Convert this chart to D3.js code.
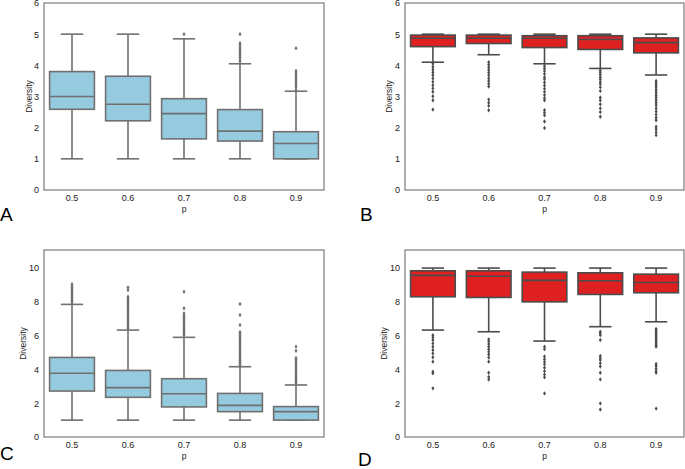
<!DOCTYPE html>
<html>
<head>
<meta charset="utf-8">
<script src="https://cdn.jsdelivr.net/npm/d3@7"></script>
<style>
  body { margin: 0; background: #fff; }
  svg { display: block; font-family: "Liberation Sans", Arial, sans-serif; }
</style>
</head>
<body>
<script>
// categories (p) shared by all four panels
var categories = ['0.5', '0.6', '0.7', '0.8', '0.9'];
var ticksSmall = [0, 1, 2, 3, 4, 5, 6];
var ticksLarge = [0, 2, 4, 6, 8, 10];

// Panel A
var aWhisLo = [1, 1, 1, 1, 1];
var aQ1 = [2.59, 2.22, 1.64, 1.57, 1.0];
var aMed = [3.0, 2.75, 2.45, 1.89, 1.49];
var aQ3 = [3.8, 3.65, 2.93, 2.58, 1.87];
var aWhisHi = [5, 5, 4.85, 4.05, 3.17];
var aFliers = [
  [],
  [],
  [5.0],
  [4.12, 4.18, 4.25, 4.3, 4.36, 4.42, 4.48, 4.55, 4.6, 4.66, 4.71, 5.0],
  [3.22, 3.3, 3.36, 3.42, 3.48, 3.55, 3.62, 3.68, 3.75, 3.82, 4.55]
];

// Panel B
var bWhisLo = [4.1, 4.34, 4.05, 3.9, 3.69];
var bQ1 = [4.6, 4.7, 4.57, 4.51, 4.4];
var bMed = [4.87, 4.87, 4.87, 4.83, 4.73];
var bQ3 = [4.97, 4.97, 4.95, 4.95, 4.88];
var bWhisHi = [5, 5, 5, 5, 5];
var bFliers = [
  [4.05, 3.95, 3.86, 3.77, 3.68, 3.58, 3.47, 3.36, 3.26, 3.15, 3.01, 2.88, 2.58],
  [4.1, 4.02, 3.93, 3.85, 3.76, 3.67, 3.58, 3.5, 3.41, 3.32, 2.9, 2.8, 2.7, 2.56],
  [3.98, 3.9, 3.82, 3.72, 3.62, 3.55, 3.45, 3.35, 3.25, 3.15, 3.05, 2.95, 2.88, 2.56, 2.48, 2.4, 2.2, 1.99],
  [3.84, 3.78, 3.7, 3.62, 3.55, 3.47, 3.4, 3.3, 3.18, 2.97, 2.88, 2.75, 2.62, 2.5, 2.35],
  [3.5, 3.43, 3.36, 3.28, 3.2, 3.12, 3.04, 2.96, 2.88, 2.8, 2.72, 2.62, 2.52, 2.42, 2.32, 2.24, 2.03, 1.95, 1.85, 1.76]
];

// Panel C
var cWhisLo = [1, 1, 1, 1, 1];
var cQ1 = [2.72, 2.35, 1.78, 1.5, 1.0];
var cMed = [3.77, 2.92, 2.56, 1.87, 1.5];
var cQ3 = [4.71, 3.94, 3.45, 2.58, 1.8];
var cWhisHi = [7.85, 6.33, 5.9, 4.16, 3.08];
var cFliers = [
  [7.95, 8.05, 8.15, 8.25, 8.35, 8.45, 8.55, 8.65, 8.75, 8.85, 8.95, 9.05],
  [6.42, 6.52, 6.62, 6.72, 6.82, 6.92, 7.02, 7.12, 7.22, 7.32, 7.42, 7.52, 7.62, 7.72, 7.82, 7.92, 8.02, 8.12, 8.22, 8.3, 8.7, 8.85],
  [6.02, 6.12, 6.22, 6.32, 6.42, 6.52, 6.62, 6.72, 6.82, 6.92, 7.02, 7.12, 7.22, 7.32, 7.62, 8.6],
  [4.22, 4.32, 4.42, 4.52, 4.62, 4.72, 4.82, 4.92, 5.02, 5.12, 5.22, 5.32, 5.42, 5.52, 5.62, 5.72, 5.82, 5.92, 6.02, 6.12, 6.22, 6.63, 7.22, 7.87],
  [3.18, 3.28, 3.38, 3.48, 3.58, 3.68, 3.78, 3.88, 3.98, 4.08, 4.18, 4.28, 4.38, 4.48, 4.58, 4.68, 5.1, 5.35]
];

// Panel D
var dWhisLo = [6.33, 6.23, 5.68, 6.53, 6.82];
var dQ1 = [8.3, 8.26, 8.0, 8.44, 8.54];
var dMed = [9.57, 9.52, 9.27, 9.25, 9.15];
var dQ3 = [9.84, 9.84, 9.76, 9.72, 9.64];
var dWhisHi = [10, 10, 10, 10, 10];
var dFliers = [
  [6.03, 5.9, 5.74, 5.54, 5.35, 5.15, 4.95, 4.72, 4.46, 3.87, 3.77, 2.88],
  [5.78, 5.65, 5.5, 5.35, 5.2, 5.05, 4.88, 4.7, 4.46, 3.8, 3.55, 3.4],
  [5.34, 5.2, 4.77, 4.6, 4.45, 4.3, 4.1, 3.9, 3.7, 3.53, 2.58],
  [6.23, 6.12, 6.03, 5.74, 4.8, 4.68, 4.56, 4.36, 4.17, 3.8, 3.41, 1.99, 1.63],
  [6.39, 6.3, 6.2, 6.1, 6.0, 5.9, 5.8, 5.7, 5.6, 5.5, 5.42, 5.35, 4.32, 4.2, 4.05, 3.9, 3.8, 1.68]
];

var W = 685, H = 469;
var svg = d3.select('body').append('svg').attr('width', W).attr('height', H);

function boxPanel(o) {
  var g = svg.append('g');
  var x = d3.scaleBand().domain(categories).range([o.x0, o.x1]).paddingInner(0).paddingOuter(0);
  var y = d3.scaleLinear().domain([0, o.ymax]).range([o.y1, o.y0]);
  var bw = x.bandwidth() * 0.8;

  var rows = categories.map(function(c, i) {
    return { c: c, lo: o.lo[i], q1: o.q1[i], med: o.med[i], q3: o.q3[i], hi: o.hi[i], fl: o.fl[i] };
  });

  // axes (no tick marks, seaborn white style)
  var ya = g.append('g').attr('transform', 'translate(' + o.x0 + ',0)')
    .call(d3.axisLeft(y).tickValues(o.ticks).tickFormat(d3.format('d')).tickSize(0).tickPadding(5));
  var xa = g.append('g').attr('transform', 'translate(0,' + o.y1 + ')')
    .call(d3.axisBottom(x).tickSize(0).tickPadding(5));
  [ya, xa].forEach(function(a) {
    a.select('.domain').remove();
    a.selectAll('text').attr('font-size', 9).attr('fill', '#222').attr('font-family', '"Liberation Sans", Arial, sans-serif');
  });

  var bx = g.selectAll('.bx').data(rows).enter().append('g');
  var cx = function(d) { return x(d.c) + x.bandwidth() / 2; };

  // whiskers
  bx.append('line')
    .attr('x1', cx).attr('x2', cx)
    .attr('y1', function(d) { return y(d.q3); }).attr('y2', function(d) { return y(d.hi); })
    .attr('stroke', o.line).attr('stroke-width', 1.6);
  bx.append('line')
    .attr('x1', cx).attr('x2', cx)
    .attr('y1', function(d) { return y(d.q1); }).attr('y2', function(d) { return y(d.lo); })
    .attr('stroke', o.line).attr('stroke-width', 1.6);
  // caps
  ['lo', 'hi'].forEach(function(k) {
    bx.append('line')
      .attr('x1', function(d) { return cx(d) - bw / 4; }).attr('x2', function(d) { return cx(d) + bw / 4; })
      .attr('y1', function(d) { return y(d[k]); }).attr('y2', function(d) { return y(d[k]); })
      .attr('stroke', o.line).attr('stroke-width', 1.6);
  });
  // box
  bx.append('rect')
    .attr('x', function(d) { return cx(d) - bw / 2; })
    .attr('width', bw)
    .attr('y', function(d) { return y(d.q3); })
    .attr('height', function(d) { return y(d.q1) - y(d.q3); })
    .attr('fill', o.fill).attr('stroke', o.line).attr('stroke-width', 1.6);
  // median
  bx.append('line')
    .attr('x1', function(d) { return cx(d) - bw / 2; }).attr('x2', function(d) { return cx(d) + bw / 2; })
    .attr('y1', function(d) { return y(d.med); }).attr('y2', function(d) { return y(d.med); })
    .attr('stroke', o.line).attr('stroke-width', 1.6);
  // fliers, thin diamonds
  bx.each(function(d) {
    d3.select(this).selectAll('path.fl').data(d.fl).enter().append('path')
      .attr('d', function(v) {
        var px = cx(d), py = y(v);
        return 'M' + px + ',' + (py - 2.2) + 'L' + (px + 1.5) + ',' + py + 'L' + px + ',' + (py + 2.2) + 'L' + (px - 1.5) + ',' + py + 'Z';
      })
      .attr('fill', o.line);
  });

  // frame
  g.append('rect')
    .attr('x', o.x0).attr('y', o.y0)
    .attr('width', o.x1 - o.x0).attr('height', o.y1 - o.y0)
    .attr('fill', 'none').attr('stroke', '#7a7a7a').attr('stroke-width', 1.2);

  // axis titles
  g.append('text')
    .attr('transform', 'translate(' + o.ylabX + ',' + ((o.y0 + o.y1) / 2) + ') rotate(-90)')
    .attr('text-anchor', 'middle').attr('font-size', 8.5).attr('fill', '#222')
    .text('Diversity');
  g.append('text')
    .attr('x', (o.x0 + o.x1) / 2).attr('y', o.y1 + 22)
    .attr('text-anchor', 'middle').attr('font-size', 8.5).attr('fill', '#222')
    .text('p');

  // panel letter
  g.append('text')
    .attr('x', o.lx).attr('y', o.ly)
    .attr('font-size', 19).attr('fill', '#000')
    .text(o.letter);
}

var blue = '#95cadf', red = '#df2020';
var grayBlue = '#707070', grayRed = '#4c4c4c';

boxPanel({ x0: 44, x1: 324, y0: 3, y1: 190, ymax: 6, ticks: ticksSmall,
  lo: aWhisLo, q1: aQ1, med: aMed, q3: aQ3, hi: aWhisHi, fl: aFliers,
  fill: blue, line: grayBlue, ylabX: 32, letter: 'A', lx: 0, ly: 221 });
boxPanel({ x0: 405, x1: 684, y0: 3, y1: 190, ymax: 6, ticks: ticksSmall,
  lo: bWhisLo, q1: bQ1, med: bMed, q3: bQ3, hi: bWhisHi, fl: bFliers,
  fill: red, line: grayRed, ylabX: 392, letter: 'B', lx: 360, ly: 221 });
boxPanel({ x0: 44, x1: 324, y0: 250, y1: 437, ymax: 11.07, ticks: ticksLarge,
  lo: cWhisLo, q1: cQ1, med: cMed, q3: cQ3, hi: cWhisHi, fl: cFliers,
  fill: blue, line: grayBlue, ylabX: 26, letter: 'C', lx: 0, ly: 460 });
boxPanel({ x0: 405, x1: 684, y0: 250, y1: 437, ymax: 11.07, ticks: ticksLarge,
  lo: dWhisLo, q1: dQ1, med: dMed, q3: dQ3, hi: dWhisHi, fl: dFliers,
  fill: red, line: grayRed, ylabX: 387, letter: 'D', lx: 358, ly: 466 });
</script>
</body>
</html>
